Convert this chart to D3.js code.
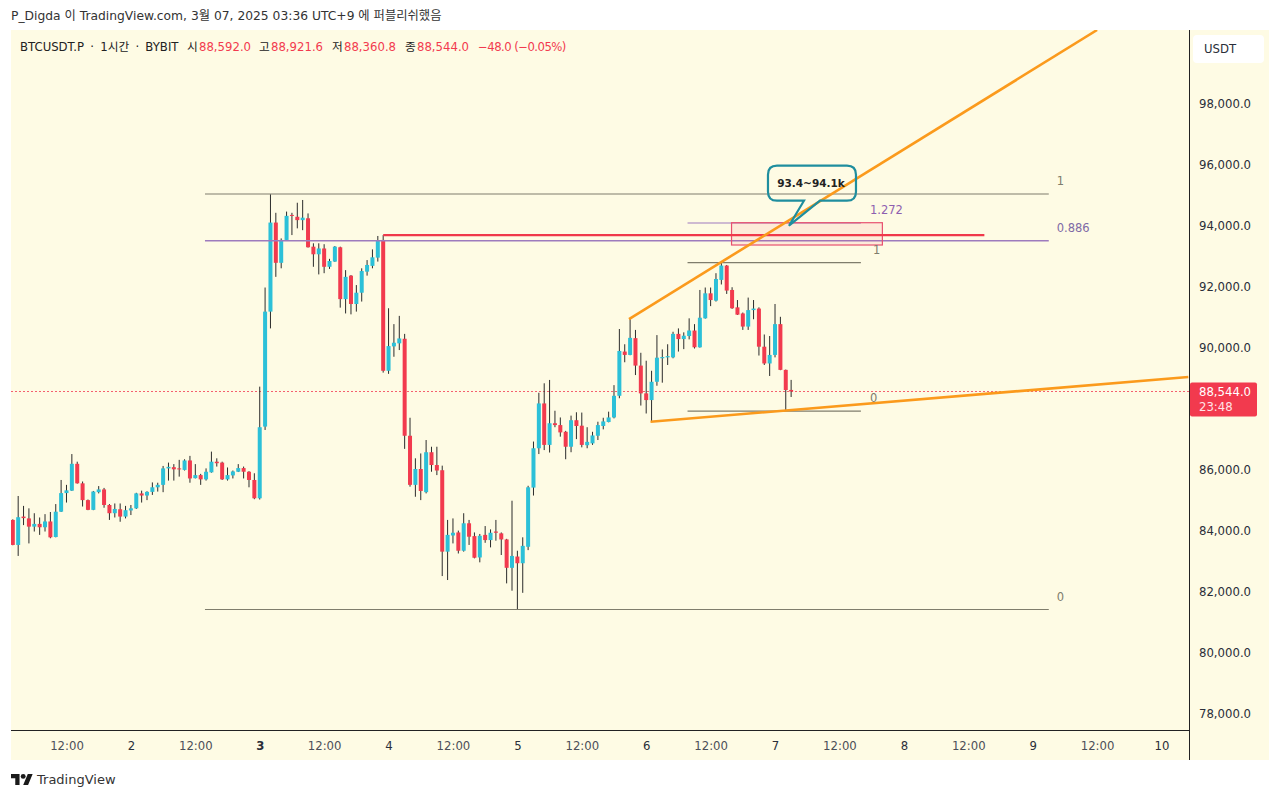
<!DOCTYPE html>
<html>
<head>
<meta charset="utf-8">
<title>BTCUSDT.P 1시간</title>
<script src="https://d3js.org/d3.v7.min.js"></script>
<style>
	html, body {
		margin: 0;
		background: #fff;
	}

	text {
		font-family: "DejaVu Sans", "Noto Sans CJK KR", sans-serif;
	}

	.axis text {
		font-family: "DejaVu Sans", sans-serif;
	}
</style>
</head>
<body>
</body>
<script>
	// hours since March 1st 00:00 (UTC+9), one candle per hour
	var firstHour = 2;

	var opens = [
		84330,83510,84440,84380,84110,84200,84090,84280,83770,84600,
		85210,85290,86170,85530,84980,84660,85240,85330,84820,84550,
		84680,84440,84640,84710,85200,85130,85250,85400,85480,86020,
		86060,86020,85970,86280,85700,85800,85660,85890,86240,86210,
		85660,85790,85910,86030,85910,85640,85040,87390,91160,94080,
		92760,93510,94330,94270,94160,94220,93290,93040,93230,92630,
		92800,93270,91570,92340,91410,91780,92470,92660,92930,93510,
		89220,90020,90120,90270,87090,85480,86000,85240,86550,86130,
		85960,83290,83820,83920,83320,84220,83800,83100,83840,83670,
		83950,83890,83690,82760,83130,82910,83450,85390,86680,88150,
		86790,87500,87440,87220,86730,87600,87420,86780,86840,87090,
		87410,87540,87690,88400,89850,89740,90290,89390,88480,88260,
		88860,89630,89660,89660,90430,90260,90360,90540,89990,90940,
		91760,91520,92200,92670,91870,91300,91100,90670,91210,91260,
		90010,89460,89740,90750,89250,88592
	];

	var closes = [
		83510,84420,84390,84110,84200,84090,84280,83760,84600,85210,
		85300,86170,85530,84980,84660,85260,85330,84820,84550,84690,
		84440,84650,84710,85200,85130,85250,85400,85480,86020,86070,
		85990,85990,86280,85690,85800,85660,85910,86240,86190,85660,
		85800,85920,86030,85910,85640,85040,87370,91160,94080,92760,
		93510,94300,94300,94160,94240,93270,93040,93230,92630,92820,
		93290,91570,92300,91410,91780,92490,92690,92940,93490,89220,
		90030,90140,90280,87090,85480,86000,85280,86550,86130,85950,
		83290,83840,83910,83320,84220,83780,83090,83810,83670,83910,
		83910,83690,82760,83150,82910,83480,85400,86680,88150,86790,
		87500,87440,87200,86730,87600,87410,86790,86890,87100,87440,
		87560,87690,88400,89870,89740,90300,89390,88480,88260,88860,
		89650,89670,89700,90430,90260,90370,90540,89990,90960,91760,
		91540,92230,92670,91850,91270,91060,90670,91210,91260,90010,
		89460,89740,90750,89250,88590,88544
	];

	var highs = [
		84350,85115,84790,84710,84550,84410,84520,84590,84850,85640,
		85480,86490,86240,85590,85000,85280,85440,85380,84850,84870,
		84870,84790,84820,85220,85290,85270,85560,85550,86100,86210,
		86160,86300,86320,86430,86160,85840,86020,86570,86350,86240,
		86050,85950,86160,86080,85930,85860,88700,91950,95010,94400,
		93560,94440,94400,94730,94820,94380,93400,93400,93370,92890,
		93310,93290,92520,92360,92030,92580,92850,93200,93640,93670,
		91270,90750,91020,90430,87680,86350,86510,86950,86730,86730,
		86110,84330,84380,83980,84550,84330,83920,83870,84130,84020,
		84330,83920,83710,84960,83320,83760,85450,86900,88500,88810,
		88920,87910,87690,87250,87750,87860,87850,87370,87220,87550,
		87680,87880,88750,90590,90090,90920,90560,89810,89550,89220,
		90390,89920,90090,90500,90610,90480,90940,90750,91870,91950,
		91950,92420,92770,92690,91960,91540,91130,91620,91540,91300,
		90410,90360,91410,90990,89260,88921.6
	];

	var lows = [
		83500,83150,84160,83560,83950,83840,83950,83730,83760,84590,
		84900,85280,85520,84770,84650,84650,85200,84730,84330,84410,
		84270,84380,84490,84690,84900,84980,85150,85260,85240,85620,
		85620,85750,85950,85550,85690,85480,85620,85880,86080,85640,
		85620,85690,85900,85690,85400,85010,85000,87280,90610,92300,
		92580,93500,93670,93890,93830,93260,92630,92380,92420,92560,
		92790,91290,91100,91070,91160,91490,92340,92580,92800,89160,
		89120,89680,89900,86660,85420,85090,84980,85200,85910,85800,
		82490,82360,83560,83230,83290,83510,83070,82940,83580,83430,
		83650,83180,82250,82010,81400,81940,83340,85130,86490,86620,
		86540,87370,87060,86320,86550,86980,86710,86680,86790,86950,
		87300,87530,87660,88320,89500,89730,89080,88080,87820,87550,
		88730,88830,89410,89630,89850,89930,90250,89950,89980,90930,
		91340,91490,92050,91740,91250,91050,90560,90560,90910,89720,
		89410,89050,89660,89240,87930,88360.8
	];

	// 88,000.0 sits behind the last price tag in the chart, so it is left out
	var priceTicks = [78000, 80000, 82000, 84000, 86000, 90000, 92000, 94000, 96000, 98000];
	var timeTicks = [12, 24, 36, 48, 60, 72, 84, 96, 108, 120, 132, 144, 156, 168, 180, 192, 204, 216];
	var timeLabels = ["12:00", "2", "12:00", "3", "12:00", "4", "12:00", "5", "12:00", "6", "12:00", "7", "12:00", "8", "12:00", "9", "12:00", "10"];

	var lastPrice = 88544;
	var countdown = "23:48";

	// drawings: hour / price pairs
	var bigFib = { from: 37.8, to: 195, one: 95016, mid: 93485, zero: 81393 };
	var smallFib = { from: 127.7, to: 160, top: 94066, one: 92764, zero: 87900 };
	var resistance = [{ h: 71, p: 93665 }, { h: 183, p: 93665 }];
	var upperTrend = [{ h: 116.8, p: 90917 }, { h: 204, p: 100393 }];
	var lowerTrend = [{ h: 120.8, p: 87551 }, { h: 221, p: 89016 }];
	var targetZone = { from: 135.9, to: 164, top: 94075, bottom: 93344 };
	var callout = { h: 146.6, p: 93977, text: "93.4~94.1k" };

	var titleText = "P_Digda 이 TradingView.com, 3월 07, 2025 03:36 UTC+9 에 퍼블리쉬했음";
	var symbolText = "BTCUSDT.P · 1시간 · BYBIT";
	var ohlcLabels = ["시", "고", "저", "종"];
	var ohlcValues = ["88,592.0", "88,921.6", "88,360.8", "88,544.0"];
	var changeText = "−48.0 (−0.05%)";

	var width = 1280,
			height = 799,
			paneLeft = 11,
			paneRight = 1189.5,
			paneTop = 30,
			paneBottom = 730.5,
			stripRight = 1269,
			stripBottom = 760;

	var red = "#f23a4e",
			teal = "#2cc0d8",
			wick = "#2b2b2b",
			cream = "#fefbe4",
			grey = "#7f7d6c",
			purple = "#9d7bbd",
			orange = "#fb9a1c",
			ink = "#2a2e39";

	var x = d3.scaleLinear().domain([24, 216]).range([130.9, 1161.5]);
	var y = d3.scaleLinear().domain([78000, 98000]).range([713, 103]);

	var candles = opens.map(function(o, i) {
		return { h: firstHour + i, o: o, c: closes[i], hi: highs[i], lo: lows[i] };
	});

	var svg = d3.select("body").append("svg")
			.attr("width", width)
			.attr("height", height)
			.style("display", "block");

	svg.append("rect")
			.attr("x", paneLeft)
			.attr("y", paneTop)
			.attr("width", stripRight - paneLeft)
			.attr("height", stripBottom - paneTop)
			.attr("fill", cream);

	svg.append("clipPath").attr("id", "pane")
		.append("rect")
			.attr("x", paneLeft)
			.attr("y", paneTop)
			.attr("width", paneRight - paneLeft)
			.attr("height", paneBottom - paneTop);

	var pane = svg.append("g").attr("clip-path", "url(#pane)");

	////////////////////////////////////////////////////////////
	// Last price line
	pane.append("line")
			.attr("x1", paneLeft)
			.attr("x2", paneRight)
			.attr("y1", Math.round(y(lastPrice)) + 0.5)
			.attr("y2", Math.round(y(lastPrice)) + 0.5)
			.attr("stroke", "#f4606f")
			.attr("stroke-width", 1)
			.attr("stroke-dasharray", "2 2");

	////////////////////////////////////////////////////////////
	// Candles
	pane.selectAll("line.wick")
			.data(candles)
		.enter().append("line")
			.attr("class", "wick")
			.attr("x1", function(d) { return x(d.h); })
			.attr("x2", function(d) { return x(d.h); })
			.attr("y1", function(d) { return y(d.hi); })
			.attr("y2", function(d) { return y(d.lo); })
			.attr("stroke", wick)
			.attr("stroke-width", 1);

	pane.selectAll("rect.body")
			.data(candles)
		.enter().append("rect")
			.attr("class", "body")
			.attr("x", function(d) { return x(d.h) - 2; })
			.attr("width", 4)
			.attr("y", function(d) { return y(Math.max(d.o, d.c)); })
			.attr("height", function(d) { return Math.max(1, Math.abs(y(d.o) - y(d.c))); })
			.attr("fill", function(d) { return d.c >= d.o ? teal : red; });

	////////////////////////////////////////////////////////////
	// Fib levels, zone, trend lines
	function hline(from, to, price, color, w) {
		pane.append("line")
				.attr("x1", x(from))
				.attr("x2", x(to))
				.attr("y1", y(price))
				.attr("y2", y(price))
				.attr("stroke", color)
				.attr("stroke-width", w);
	}

	function level(h, price, text, color, dx, dy) {
		svg.append("text")
				.attr("x", x(h) + dx)
				.attr("y", y(price) + dy)
				.attr("dy", "0.35em")
				.attr("font-size", 11.5)
				.attr("fill", color)
				.text(text);
	}

	hline(bigFib.from, bigFib.to, bigFib.one, grey, 1.2);
	hline(bigFib.from, bigFib.to, bigFib.mid, purple, 1.4);
	hline(bigFib.from, bigFib.to, bigFib.zero, grey, 1.2);
	level(bigFib.to, bigFib.one, "1", grey, 8, -13);
	level(bigFib.to, bigFib.mid, "0.886", "#7f6aa6", 8, -13);
	level(bigFib.to, bigFib.zero, "0", grey, 8, -13);

	hline(smallFib.from, smallFib.to, smallFib.top, purple, 1.2);
	hline(smallFib.from, smallFib.to, smallFib.one, grey, 1.2);
	hline(smallFib.from, smallFib.to, smallFib.zero, grey, 1.2);
	level(smallFib.to, smallFib.top, "1.272", "#8e5fb0", 9, -13);
	level(smallFib.to, smallFib.one, "1", grey, 12, -13);
	level(smallFib.to, smallFib.zero, "0", grey, 9, -13);

	pane.append("rect")
			.attr("x", x(targetZone.from))
			.attr("y", y(targetZone.top))
			.attr("width", x(targetZone.to) - x(targetZone.from))
			.attr("height", y(targetZone.bottom) - y(targetZone.top))
			.attr("fill", "rgba(242, 54, 90, 0.08)")
			.attr("stroke", "#e8506f")
			.attr("stroke-width", 1.2);

	var trendLine = d3.line()
			.x(function(d) { return x(d.h); })
			.y(function(d) { return y(d.p); });

	pane.append("path")
			.datum(resistance)
			.attr("d", trendLine)
			.attr("fill", "none")
			.attr("stroke", "#f0384a")
			.attr("stroke-width", 2.2);

	[upperTrend, lowerTrend].forEach(function(pts) {
		pane.append("path")
				.datum(pts)
				.attr("d", trendLine)
				.attr("fill", "none")
				.attr("stroke", orange)
				.attr("stroke-width", 2.6);
	});

	////////////////////////////////////////////////////////////
	// Callout, its tail tip sits on the hour / price anchor
	var tipX = x(callout.h),
			tipY = y(callout.p),
			boxL = tipX - 21,
			boxR = tipX + 67,
			boxT = tipY - 60,
			boxB = tipY - 25,
			r = 9;

	var bubble = d3.path();
	bubble.moveTo(boxL + r, boxT);
	bubble.lineTo(boxR - r, boxT);
	bubble.quadraticCurveTo(boxR, boxT, boxR, boxT + r);
	bubble.lineTo(boxR, boxB - r);
	bubble.quadraticCurveTo(boxR, boxB, boxR - r, boxB);
	bubble.lineTo(tipX + 31, boxB);
	bubble.lineTo(tipX, tipY);
	bubble.lineTo(tipX + 15, boxB);
	bubble.lineTo(boxL + r, boxB);
	bubble.quadraticCurveTo(boxL, boxB, boxL, boxB - r);
	bubble.lineTo(boxL, boxT + r);
	bubble.quadraticCurveTo(boxL, boxT, boxL + r, boxT);
	bubble.closePath();

	svg.append("path")
			.attr("d", bubble.toString())
			.attr("fill", "none")
			.attr("stroke", "#1f8e9e")
			.attr("stroke-width", 2.2);

	svg.append("text")
			.attr("x", (boxL + boxR) / 2 - 1)
			.attr("y", (boxT + boxB) / 2)
			.attr("dy", "0.35em")
			.attr("text-anchor", "middle")
			.attr("font-size", 10.5)
			.attr("font-weight", "bold")
			.attr("fill", "#222")
			.text(callout.text);

	////////////////////////////////////////////////////////////
	// Axes
	var priceAxis = d3.axisRight(y)
			.tickValues(priceTicks)
			.tickFormat(d3.format(",.1f"))
			.tickSize(0)
			.tickPadding(10);

	var gy = svg.append("g")
			.attr("class", "axis")
			.attr("transform", "translate(1189,0)")
			.call(priceAxis);
	gy.select(".domain").remove();
	gy.selectAll("text").attr("font-size", 11.7).attr("dy", "0.4em").attr("fill", ink);

	var timeAxis = d3.axisBottom(x)
			.tickValues(timeTicks)
			.tickFormat(function(d, i) { return timeLabels[i]; })
			.tickSize(0)
			.tickPadding(11);

	var gx = svg.append("g")
			.attr("class", "axis")
			.attr("transform", "translate(0," + paneBottom + ")")
			.call(timeAxis);
	gx.select(".domain").remove();
	gx.selectAll("text")
			.attr("font-size", 11.7)
			.attr("fill", function(d, i) { return timeLabels[i].indexOf(":") > 0 ? "#4c4f58" : ink; })
			.attr("font-weight", function(d, i) { return timeLabels[i] === "3" ? "bold" : "normal"; });

	svg.append("line")
			.attr("x1", paneLeft).attr("x2", paneRight)
			.attr("y1", paneBottom).attr("y2", paneBottom)
			.attr("stroke", "#222").attr("stroke-width", 1);

	svg.append("line")
			.attr("x1", paneRight).attr("x2", paneRight)
			.attr("y1", paneTop).attr("y2", stripBottom)
			.attr("stroke", "#222").attr("stroke-width", 1);

	////////////////////////////////////////////////////////////
	// Currency box and last price tag
	svg.append("rect")
			.attr("x", 1193).attr("y", 35)
			.attr("width", 71).attr("height", 28)
			.attr("rx", 4)
			.attr("fill", "#fff");

	svg.append("text")
			.attr("x", 1204).attr("y", 49)
			.attr("dy", "0.35em")
			.attr("font-size", 11.7)
			.attr("fill", ink)
			.text("USDT");

	svg.append("rect")
			.attr("x", paneRight + 0.5)
			.attr("y", y(lastPrice) - 9)
			.attr("width", 67)
			.attr("height", 34)
			.attr("rx", 2)
			.attr("fill", red);

	svg.append("text")
			.attr("x", 1199)
			.attr("y", y(lastPrice))
			.attr("dy", "0.35em")
			.attr("font-size", 11.7)
			.attr("fill", "#fff")
			.text(d3.format(",.1f")(lastPrice));

	svg.append("text")
			.attr("x", 1199)
			.attr("y", y(lastPrice) + 15)
			.attr("dy", "0.35em")
			.attr("font-size", 11.7)
			.attr("fill", "#ffe3e6")
			.text(countdown);

	////////////////////////////////////////////////////////////
	// Title and legend
	svg.append("text")
			.attr("x", 11).attr("y", 16)
			.attr("dy", "0.35em")
			.attr("font-size", 12.3)
			.attr("fill", "#333")
			.text(titleText);

	svg.append("text")
			.attr("x", 20).attr("y", 47)
			.attr("dy", "0.35em")
			.attr("font-size", 11.7)
			.attr("word-spacing", 2.5)
			.attr("fill", "#222")
			.text(symbolText);

	var legendX = [187, 259, 332, 405];
	ohlcLabels.forEach(function(label, i) {
		svg.append("text")
				.attr("x", legendX[i]).attr("y", 47)
				.attr("dy", "0.35em")
				.attr("font-size", 11.7)
				.attr("fill", "#222")
				.text(label);
		svg.append("text")
				.attr("x", legendX[i] + 12).attr("y", 47)
				.attr("dy", "0.35em")
				.attr("font-size", 11.7)
				.attr("fill", red)
				.text(ohlcValues[i]);
	});

	svg.append("text")
			.attr("x", 478).attr("y", 47)
			.attr("dy", "0.35em")
			.attr("font-size", 11.7)
			.attr("letter-spacing", -0.55)
			.attr("fill", red)
			.text(changeText);

	////////////////////////////////////////////////////////////
	// TradingView mark
	var logo = svg.append("g")
			.attr("transform", "translate(11,771.5) scale(0.61)")
			.attr("fill", "#1b1b1b");
	logo.append("path").attr("d", "M14 22H7V11H0V4h14v18zM28 22h-8l7.5-18h8L28 22z");
	logo.append("circle").attr("cx", 20).attr("cy", 8).attr("r", 4);

	svg.append("text")
			.attr("x", 37).attr("y", 779)
			.attr("dy", "0.35em")
			.attr("font-size", 13)
			.attr("fill", "#333")
			.text("TradingView");

</script>
</html>
